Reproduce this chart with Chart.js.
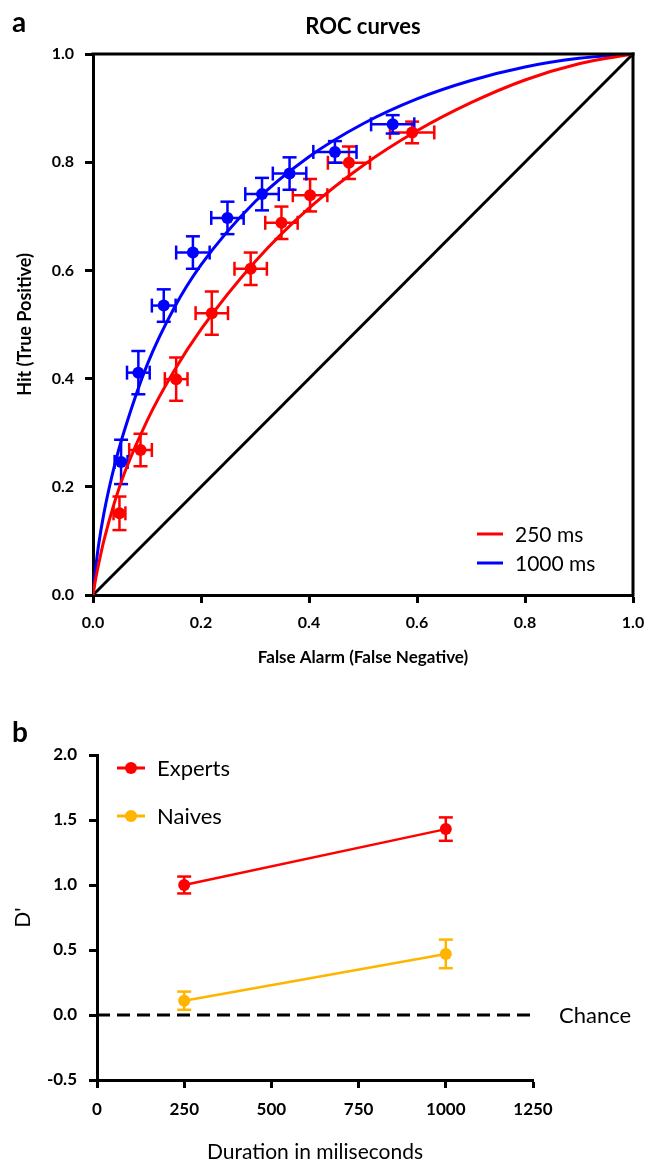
<!DOCTYPE html>
<html>
<head>
<meta charset="utf-8">
<script src="https://cdn.jsdelivr.net/npm/chart.js@4.4.1/dist/chart.umd.min.js"></script>
<style>
  body { margin: 0; background: #fff; }
  canvas { position: absolute; left: 0; }
</style>
</head>
<body>
<canvas id="roc" width="648" height="690" style="top:0"></canvas>
<canvas id="dprime" width="648" height="475" style="top:690px"></canvas>
<script>
// ---- panel a: ROC curves ----
const rocTickLabels = ['0.0', '0.2', '0.4', '0.6', '0.8', '1.0'];
const diagX = [0, 1];
const diagY = [0, 1];

// fitted curves
const curveX = [0, 0.005, 0.01, 0.02, 0.04, 0.06, 0.1, 0.15, 0.2, 0.3, 0.4, 0.5, 0.6, 0.7, 0.8, 0.9, 1];
const curve250 = [0, 0.03, 0.055, 0.1, 0.172, 0.23, 0.322, 0.414, 0.491, 0.616, 0.715, 0.794, 0.858, 0.91, 0.952, 0.982, 1];
const curve1000 = [0, 0.05, 0.09, 0.15, 0.24, 0.31, 0.425, 0.53, 0.61, 0.727, 0.81, 0.871, 0.917, 0.951, 0.976, 0.992, 1];

// measured points (false alarm, hit) with errors
const fa250 = [0.049, 0.088, 0.154, 0.22, 0.292, 0.349, 0.402, 0.474, 0.591];
const hit250 = [0.151, 0.268, 0.399, 0.521, 0.603, 0.688, 0.739, 0.799, 0.855];
const faErr250 = [0.011, 0.021, 0.021, 0.03, 0.03, 0.03, 0.032, 0.039, 0.041];
const hitErr250 = [0.031, 0.03, 0.04, 0.04, 0.03, 0.03, 0.03, 0.03, 0.02];

const fa1000 = [0.052, 0.084, 0.131, 0.185, 0.249, 0.313, 0.364, 0.448, 0.555];
const hit1000 = [0.246, 0.411, 0.535, 0.633, 0.697, 0.741, 0.779, 0.819, 0.87];
const faErr1000 = [0.012, 0.021, 0.022, 0.031, 0.03, 0.031, 0.031, 0.04, 0.04];
const hitErr1000 = [0.041, 0.04, 0.03, 0.03, 0.03, 0.03, 0.03, 0.02, 0.017];

// ---- panel b: D' ----
const durations = [250, 1000];
const durTickLabels = ['0', '250', '500', '750', '1000', '1250'];
const dTickLabels = ['-0.5', '0.0', '0.5', '1.0', '1.5', '2.0'];
const expertsD = [1.0, 1.43];
const expertsErr = [0.065, 0.09];
const naivesD = [0.11, 0.47];
const naivesErr = [0.07, 0.11];
const chanceX = [0, 1260];
const chanceY = [0, 0];

const RED = '#ff0000';
const BLUE = '#0000ff';
const ORANGE = '#ffb400';

Chart.defaults.font.family = 'Lato';
Chart.defaults.color = '#000';

const toXY = (xs, ys) => xs.map((x, i) => ({ x, y: ys[i] }));

function seg(ctx, x1, y1, x2, y2) {
  ctx.beginPath();
  ctx.moveTo(x1, y1);
  ctx.lineTo(x2, y2);
  ctx.stroke();
}

const errorBars = {
  id: 'errorBars',
  beforeDatasetsDraw(chart, args, opts) {
    const { ctx } = chart;
    const sx = chart.scales.x, sy = chart.scales.y;
    const cap = opts.cap;
    ctx.save();
    ctx.lineWidth = opts.width;
    opts.sets.forEach(s => {
      ctx.strokeStyle = s.color;
      s.xs.forEach((xv, i) => {
        const yv = s.ys[i];
        const px = sx.getPixelForValue(xv), py = sy.getPixelForValue(yv);
        if (s.yErr) {
          const t = sy.getPixelForValue(yv + s.yErr[i]);
          const b = sy.getPixelForValue(yv - s.yErr[i]);
          seg(ctx, px, t, px, b);
          seg(ctx, px - cap, t, px + cap, t);
          seg(ctx, px - cap, b, px + cap, b);
        }
        if (s.xErr) {
          const l = sx.getPixelForValue(xv - s.xErr[i]);
          const r = sx.getPixelForValue(xv + s.xErr[i]);
          seg(ctx, l, py, r, py);
          seg(ctx, l, py - cap, l, py + cap);
          seg(ctx, r, py - cap, r, py + cap);
        }
      });
    });
    ctx.restore();
  }
};

// box, legend and panel letter for panel a
const rocExtras = {
  id: 'rocExtras',
  afterDraw(chart) {
    const { ctx, chartArea: a } = chart;
    ctx.save();
    ctx.strokeStyle = '#000';
    ctx.lineWidth = 3;
    ctx.lineCap = 'square';
    seg(ctx, a.left, a.top, a.right, a.top);
    seg(ctx, a.right, a.top, a.right, a.bottom);

    ctx.font = '21px Lato';
    ctx.textBaseline = 'middle';
    ctx.lineCap = 'butt';
    const items = [chart.data.datasets[0], chart.data.datasets[1]];
    items.forEach((ds, i) => {
      const y = a.bottom - 61 + i * 29;
      ctx.strokeStyle = ds.borderColor;
      seg(ctx, a.right - 156, y, a.right - 130, y);
      ctx.fillStyle = '#000';
      ctx.fillText(ds.label, a.right - 118, y + 1);
    });

    ctx.font = 'bold 28px Lato';
    ctx.textBaseline = 'alphabetic';
    ctx.fillText('a', 12, 32);
    ctx.restore();
  }
};

new Chart(document.getElementById('roc'), {
  type: 'scatter',
  data: {
    datasets: [
      { type: 'line', label: '250 ms', data: toXY(curveX, curve250), borderColor: RED, borderWidth: 3,
        pointRadius: 0, cubicInterpolationMode: 'monotone', order: 2 },
      { type: 'line', label: '1000 ms', data: toXY(curveX, curve1000), borderColor: BLUE, borderWidth: 3,
        pointRadius: 0, cubicInterpolationMode: 'monotone', order: 2 },
      { type: 'line', label: 'chance', data: toXY(diagX, diagY), borderColor: '#000', borderWidth: 3,
        pointRadius: 0, order: 3 },
      { label: '250 ms points', data: toXY(fa250, hit250), backgroundColor: RED, borderWidth: 0,
        pointRadius: 6, order: 1 },
      { label: '1000 ms points', data: toXY(fa1000, hit1000), backgroundColor: BLUE, borderWidth: 0,
        pointRadius: 6, order: 1 }
    ]
  },
  options: {
    responsive: false,
    animation: false,
    layout: { autoPadding: false, padding: { left: 0, right: 15, top: 0, bottom: 0 } },
    plugins: {
      legend: { display: false },
      tooltip: { enabled: false },
      title: {
        display: true, text: 'ROC curves', fullSize: false, color: '#000',
        font: { size: 22, weight: 'bold' }, padding: { top: 14, bottom: 13.6 }
      },
      errorBars: {
        width: 2.5, cap: 7,
        sets: [
          { color: RED, xs: fa250, ys: hit250, xErr: faErr250, yErr: hitErr250 },
          { color: BLUE, xs: fa1000, ys: hit1000, xErr: faErr1000, yErr: hitErr1000 }
        ]
      }
    },
    scales: {
      x: {
        type: 'linear', min: 0, max: 1,
        ticks: { stepSize: 0.2, padding: 10, font: { size: 16, weight: 'bold' },
                 callback: (v, i) => rocTickLabels[i] },
        grid: { drawOnChartArea: false, tickLength: 8, tickWidth: 3, tickColor: '#000' },
        border: { color: '#000', width: 3 },
        title: { display: true, text: 'False Alarm (False Negative)', font: { size: 17, weight: 'bold' },
                 padding: { top: 0, bottom: 22 } },
        afterFit: s => { s.height = 95; s.paddingLeft = 0; s.paddingRight = 0; }
      },
      y: {
        type: 'linear', min: 0, max: 1,
        ticks: { stepSize: 0.2, padding: 11, font: { size: 16, weight: 'bold' },
                 callback: (v, i) => rocTickLabels[i] },
        grid: { drawOnChartArea: false, tickLength: 8, tickWidth: 3, tickColor: '#000' },
        border: { color: '#000', width: 3 },
        title: { display: true, text: 'Hit (True Positive)', font: { size: 18, weight: 'bold' },
                 padding: { top: 14, bottom: 0 } },
        afterFit: s => { s.width = 93; }
      }
    }
  },
  plugins: [errorBars, rocExtras]
});

// legend, chance label and panel letter for panel b
const dExtras = {
  id: 'dExtras',
  afterDraw(chart) {
    const { ctx } = chart;
    ctx.save();
    ctx.font = '22px Lato';
    ctx.textBaseline = 'middle';
    ctx.lineWidth = 3;
    [chart.data.datasets[0], chart.data.datasets[1]].forEach((ds, i) => {
      const y = 78 + i * 48;
      ctx.strokeStyle = ds.borderColor;
      seg(ctx, 117, y, 145, y);
      ctx.fillStyle = ds.borderColor;
      ctx.beginPath();
      ctx.arc(131, y, 6, 0, Math.PI * 2);
      ctx.fill();
      ctx.fillStyle = '#000';
      ctx.fillText(ds.label, 157, y + 1);
    });
    const y0 = chart.scales.y.getPixelForValue(0);
    ctx.fillText('Chance', 559, y0 + 1);

    ctx.font = 'bold 28px Lato';
    ctx.textBaseline = 'alphabetic';
    ctx.fillText('b', 12, 52);
    ctx.restore();
  }
};

new Chart(document.getElementById('dprime'), {
  type: 'line',
  data: {
    datasets: [
      { label: 'Experts', data: toXY(durations, expertsD), borderColor: RED, backgroundColor: RED,
        borderWidth: 2.5, pointRadius: 6, pointBorderWidth: 0 },
      { label: 'Naives', data: toXY(durations, naivesD), borderColor: ORANGE, backgroundColor: ORANGE,
        borderWidth: 2.5, pointRadius: 6, pointBorderWidth: 0 },
      { label: 'Chance', data: toXY(chanceX, chanceY), borderColor: '#000', borderWidth: 3,
        borderDash: [13, 7], pointRadius: 0, clip: false }
    ]
  },
  options: {
    responsive: false,
    animation: false,
    layout: { autoPadding: false, padding: { left: 0, right: 115, top: 65, bottom: 0 } },
    plugins: {
      legend: { display: false },
      tooltip: { enabled: false },
      errorBars: {
        width: 2.5, cap: 7,
        sets: [
          { color: RED, xs: durations, ys: expertsD, yErr: expertsErr },
          { color: ORANGE, xs: durations, ys: naivesD, yErr: naivesErr }
        ]
      }
    },
    scales: {
      x: {
        type: 'linear', min: 0, max: 1250,
        ticks: { stepSize: 250, padding: 11, font: { size: 17, weight: 'bold' },
                 callback: (v, i) => durTickLabels[i] },
        grid: { drawOnChartArea: false, tickLength: 8, tickWidth: 3, tickColor: '#000' },
        border: { color: '#000', width: 3 },
        title: { display: true, text: 'Duration in miliseconds', font: { size: 21 },
                 padding: { top: 0, bottom: 0 } },
        afterFit: s => { s.height = 85; }
      },
      y: {
        type: 'linear', min: -0.5, max: 2,
        ticks: { stepSize: 0.5, padding: 12, font: { size: 17, weight: 'bold' },
                 callback: (v, i) => dTickLabels[i] },
        grid: { drawOnChartArea: false, tickLength: 8, tickWidth: 3, tickColor: '#000' },
        border: { color: '#000', width: 3 },
        title: { display: true, text: "D'", font: { size: 21 }, padding: { top: 11, bottom: 0 } },
        afterFit: s => { s.width = 97; }
      }
    }
  },
  plugins: [errorBars, dExtras]
});
</script>
</body>
</html>
